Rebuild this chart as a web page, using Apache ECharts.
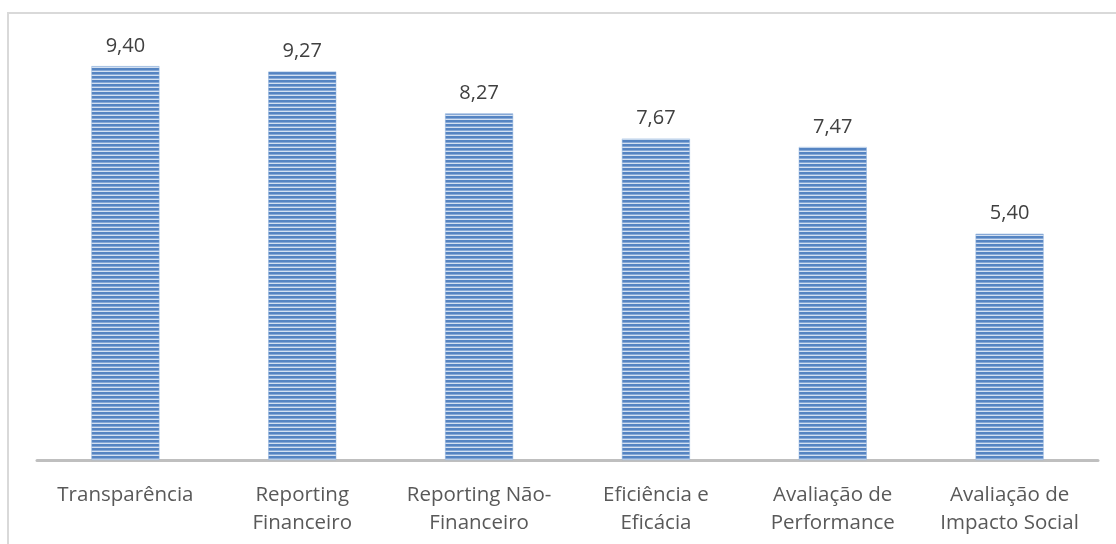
<!DOCTYPE html>
<html>
<head>
<meta charset="utf-8">
<script src="https://cdn.jsdelivr.net/npm/echarts@6/dist/echarts.min.js"></script>
<style>
  html, body { margin: 0; padding: 0; background: #fff; }
  #frame { position: absolute; left: 7px; top: 12px; width: 1120px; height: 540px;
           border-left: 2px solid #d9d9d9; border-top: 2px solid #d9d9d9; box-sizing: border-box; }
  #chart { position: absolute; left: 0; top: 0; width: 1116px; height: 544px; }
</style>
</head>
<body>
<div id="frame"></div>
<div id="chart"></div>
<script>
const categories = [
  'Transparência',
  'Reporting\nFinanceiro',
  'Reporting Não-\nFinanceiro',
  'Eficiência e\nEficácia',
  'Avaliação de\nPerformance',
  'Avaliação de\nImpacto Social'
];
const scores = [9.40, 9.27, 8.27, 7.67, 7.47, 5.40];

// Horizontal stripe fill for the bars
function stripePattern() {
  const c = document.createElement('canvas');
  c.width = 8; c.height = 4;
  const g = c.getContext('2d');
  g.fillStyle = '#d3e0f1'; g.fillRect(0, 0, 8, 4);
  g.fillStyle = '#5584c2'; g.fillRect(0, 0, 8, 2);
  g.fillStyle = '#86a8d6'; g.fillRect(0, 2, 8, 1);
  return c;
}

const chart = echarts.init(document.getElementById('chart'), null, { renderer: 'canvas' });
chart.setOption({
  animation: false,
  textStyle: { fontFamily: 'Open Sans' },
  grid: { left: 37, right: 18, top: 41, bottom: 84, containLabel: false },
  xAxis: {
    type: 'category',
    data: categories,
    axisLine: { lineStyle: { color: '#bfbfbf', width: 3 } },
    axisTick: { show: false },
    axisLabel: { color: '#595959', fontSize: 20.5, lineHeight: 28, margin: 21, interval: 0 }
  },
  yAxis: {
    type: 'value', min: 0, max: 10,
    show: false,
    splitLine: { show: false }
  },
  series: [{
    type: 'bar',
    data: scores,
    barWidth: 68,
    itemStyle: {
      color: { image: stripePattern(), repeat: 'repeat' },
      borderColor: '#8fb0dc', borderWidth: 0.5
    },
    label: {
      show: true, position: 'top', distance: 10,
      color: '#404040', fontSize: 20,
      formatter: p => p.value.toFixed(2).replace('.', ',')
    }
  }]
});
</script>
</body>
</html>
